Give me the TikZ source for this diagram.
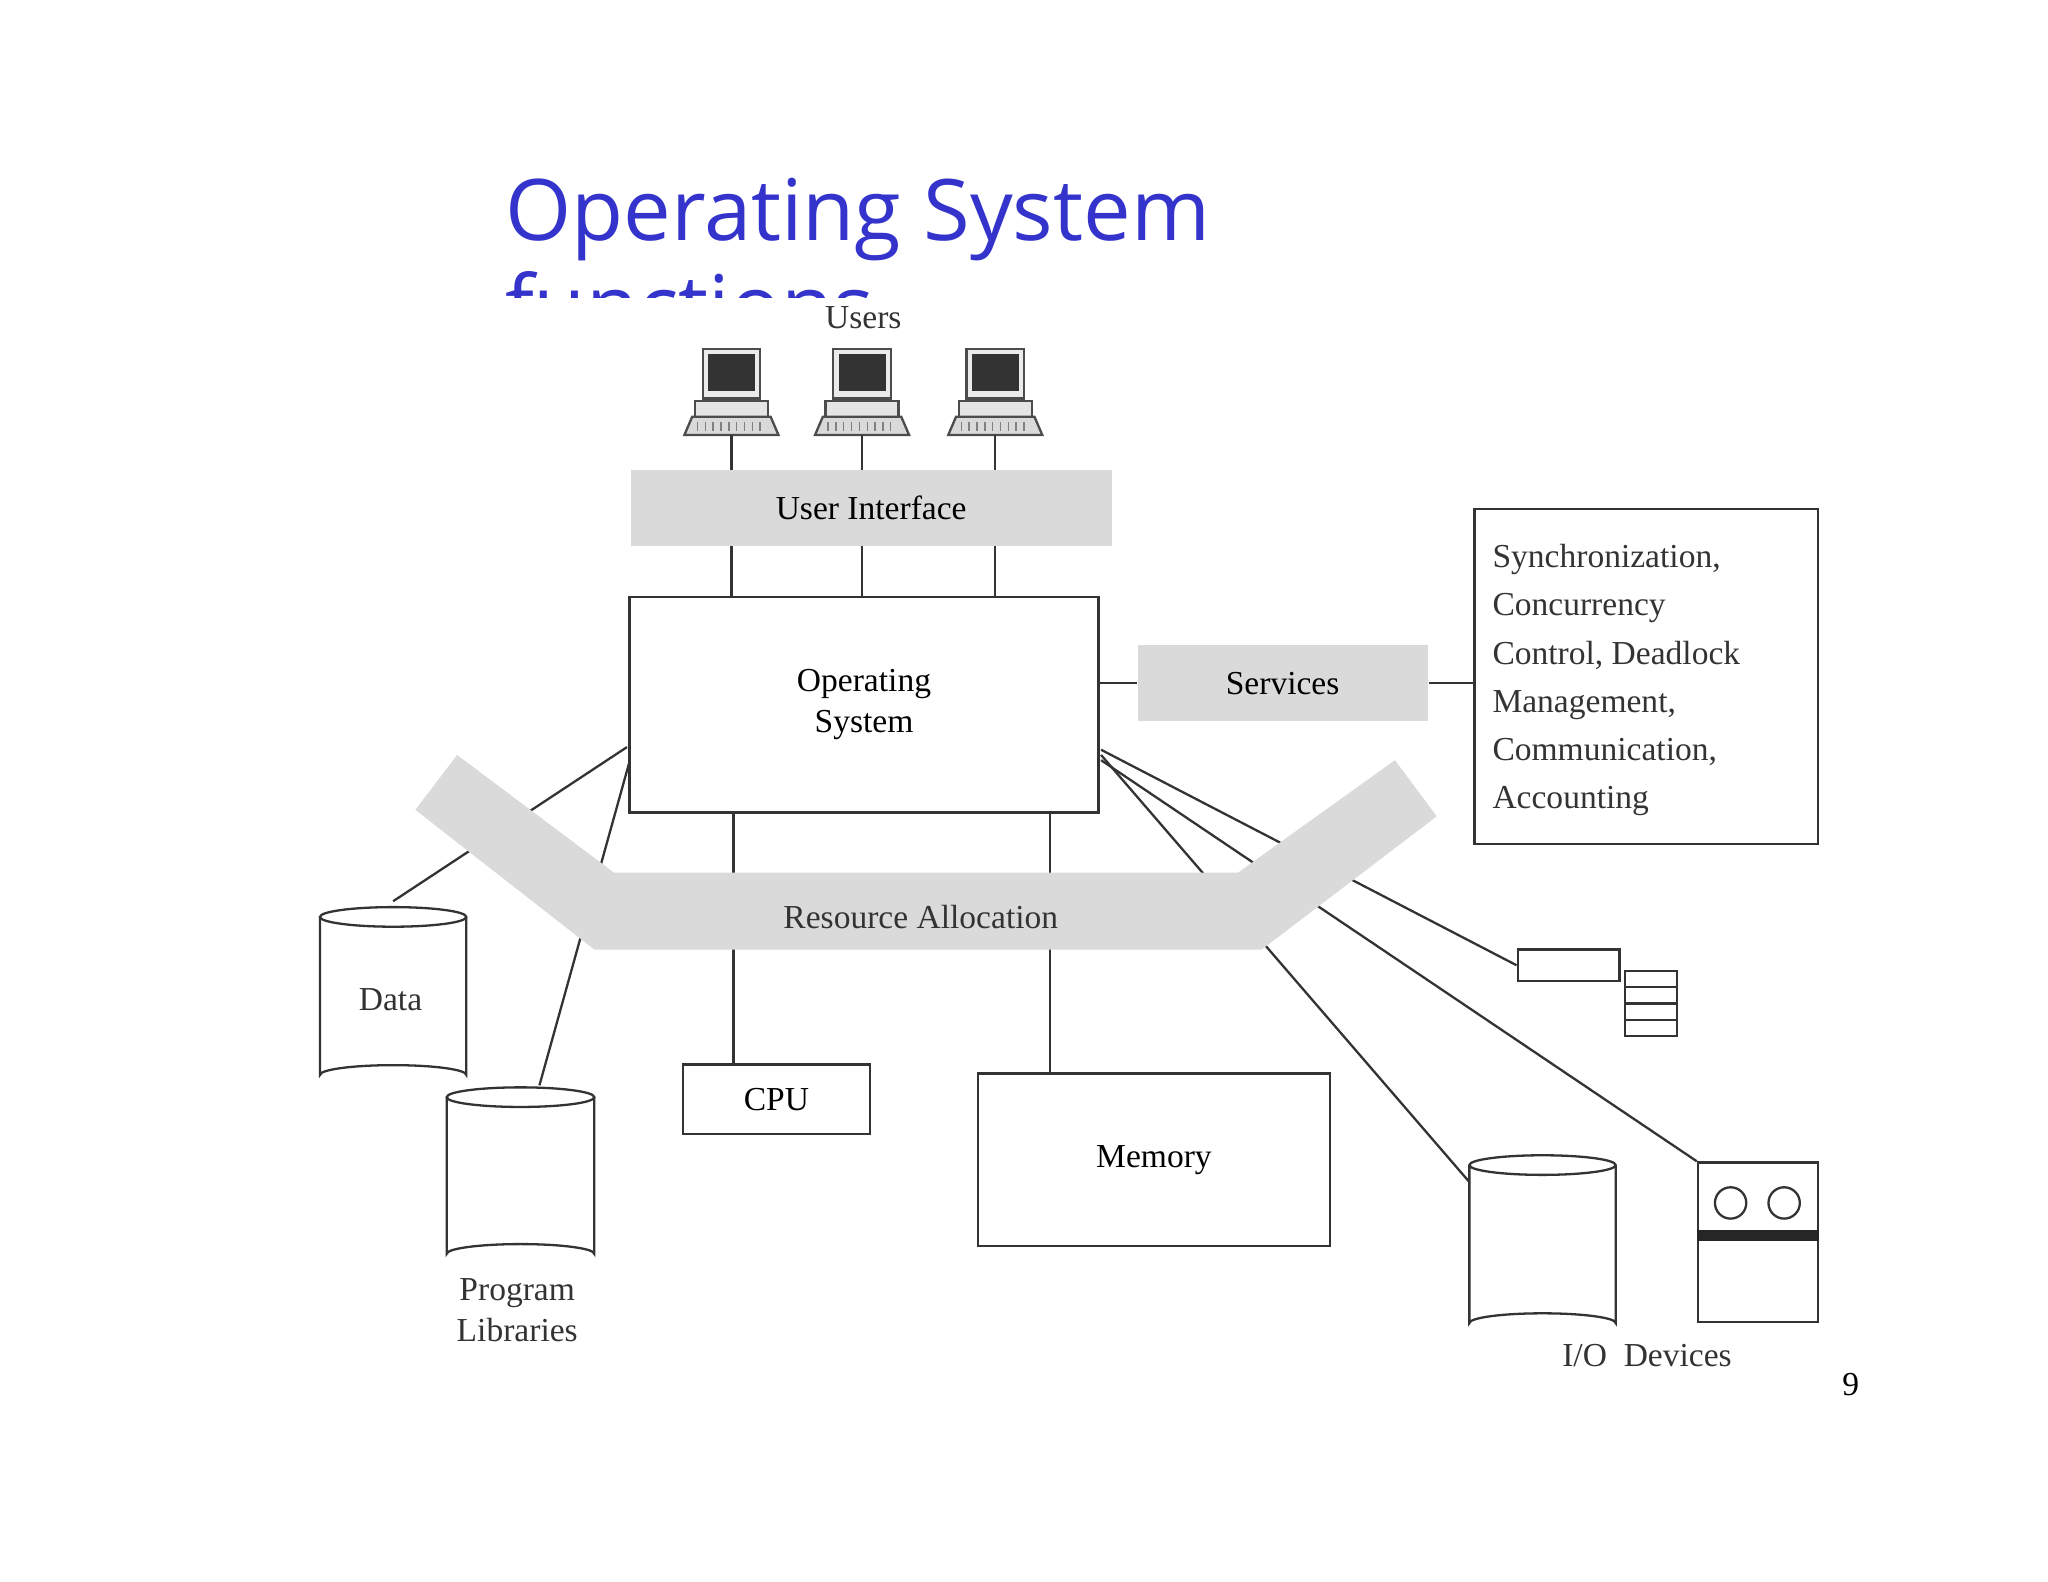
\documentclass[tikz,border=0pt]{standalone}
\usepackage{fontspec}
\setmainfont{Liberation Serif}
\newfontfamily\titlefont{Open Sans}
\definecolor{titleblue}{RGB}{52,52,204}
\definecolor{bandgray}{RGB}{218,218,218}
\tikzset{
	box/.style={draw=black!80, line width=0.5pt, inner sep=0pt, font=\fontsize{7.3}{9}\selectfont},
	graybox/.style={fill=bandgray, inner sep=0pt, font=\fontsize{7.3}{9}\selectfont},
	wire/.style={draw=black!80, line width=0.5pt},
	lbl/.style={inner sep=0pt, font=\fontsize{7.3}{9}\selectfont, text=black!80},
}
\newcommand{\drum}[4]{% x left, x right, y top, y bottom
	\fill[white] (#1,#3) -- (#1,#4) arc[start angle=180,end angle=360,x radius={(#2-#1)/2},y radius=7.5] -- (#2,#3) -- cycle;
	\draw[wire] (#1,#3) -- (#1,#4) arc[start angle=180,end angle=360,x radius={(#2-#1)/2},y radius=7.5] -- (#2,#3);
	\draw[wire,fill=white] ({(#1+#2)/2},#3) ellipse[x radius={(#2-#1)/2},y radius=7.5];
}
\newcommand{\terminal}[2]{% center x, top y
	\draw[black!70,fill=black!8,line width=0.5pt] (#1-22,#2) rectangle (#1+22,#2+38);
	\fill[black!80] (#1-18,#2+4) rectangle (#1+18,#2+32);
	\draw[black!70,fill=black!10,line width=0.5pt] (#1-28,#2+40) rectangle (#1+28,#2+52);
	\draw[black!70,fill=black!15,line width=0.5pt] (#1-30,#2+52) -- (#1+30,#2+52) -- (#1+36,#2+66) -- (#1-36,#2+66) -- cycle;
	\foreach \k in {-26,-20,...,26} \draw[black!50,line width=0.3pt] (#1+\k,#2+56) -- (#1+\k,#2+63);
}
\begin{document}
\begin{tikzpicture}[x=0.01cm,y=-0.01cm]
	\useasboundingbox (0,0) rectangle (1568,1211);
	% title, second line cut by the figure
	\node[anchor=base west, inner sep=0pt, text=titleblue, align=left,
		font=\titlefont\fontsize{18.5}{21}\selectfont] (title) at (386,258) {Operating System\\functions};
	\fill[white] (380,228) rectangle (1000,300);
	% users
	\node[lbl] (users) at (661,243) {Users};
	\foreach \x/\n in {560/ta,660/tb,762/tc}{
		\terminal{\x}{267}
		\coordinate (\n) at (\x,333);
	}
	\node[graybox, minimum width=3.68cm, minimum height=0.58cm] (ui) at (667,389) {User Interface};
	\node[box, minimum width=3.59cm, minimum height=1.65cm, align=center] (os) at (661.5,539.5) {Operating\\System};
	\node[graybox, minimum width=2.22cm, minimum height=0.58cm] (services) at (982,523) {Services};
	\node[box, minimum width=2.63cm, minimum height=2.56cm] (sync) at (1260.5,518) {};
	\node[lbl, anchor=north west, align=left, font=\fontsize{7.3}{10.5}\selectfont] (synctext) at (1142,416)
		{Synchronization,\\Concurrency\\Control, Deadlock\\Management,\\Communication,\\Accounting};
	\foreach \n/\x in {ta/560,tb/660,tc/762}{
		\draw[wire] (\n) -- (\x,360);
		\draw[wire] (\x,418) -- (\x,457);
	}
	\draw[wire] (os.east |- services) -- (services.west);
	\draw[wire] (services.east) -- (sync.west |- services);
	% stores on the left
	\drum{245}{357}{702}{823}
	\coordinate (data) at (301,690);
	\node[lbl] (datalbl) at (299,765) {Data};
	\drum{342}{455}{840}{960}
	\coordinate (lib) at (413,831);
	\node[lbl, align=center] (liblbl) at (396,1003) {Program\\Libraries};
	\coordinate (osa) at (480,572);
	\coordinate (osb) at (482,583);
	\draw[wire] (osa) -- (data);
	\draw[wire] (osb) -- (lib);
	% processor and memory
	\node[box, minimum width=1.43cm, minimum height=0.53cm] (cpu) at (594.5,841.5) {CPU};
	\node[box, minimum width=2.69cm, minimum height=1.32cm] (mem) at (883.5,888) {Memory};
	\draw[wire] (os.south -| cpu.north) ++(-33,0) coordinate (c1) -- (c1 |- cpu.north);
	\draw[wire] (804,622) coordinate (m1) -- (m1 |- mem.north);
	% I/O devices
	\node[box, minimum width=0.78cm, minimum height=0.24cm] (port) at (1201,739) {};
	\foreach \i in {0,...,3}
		\node[box, minimum width=0.40cm, minimum height=0.125cm] (stack\i) at (1264,749.5+12.5*\i) {};
	\drum{1125}{1237}{892}{1013}
	\coordinate (disk) at (1125,905);
	\node[box, minimum width=0.92cm, minimum height=1.22cm] (dev) at (1346,951) {};
	\draw[black!80, line width=0.5pt] (1325,921) circle[radius=12] (1366,921) circle[radius=12];
	\draw[black!85, line width=2.5pt] (dev.west |- 0,946) -- (dev.east |- 0,946);
	\node[lbl] (iolbl) at (1261,1038) {I/O\ \ Devices};
	\coordinate (osc) at (843,574);
	\coordinate (osd) at (843,578);
	\coordinate (ose) at (843,582);
	\draw[wire] (osc) -- (port.west);
	\draw[wire] (osd) -- (disk);
	\draw[wire] (ose) -- (dev.north west);
	% resource allocation band
	\fill[bandgray] (318,620) -- (350,578) -- (470,668) -- (948,668) -- (1068,582)
		-- (1100,625) -- (966,727) -- (455,727) -- cycle;
	\node[lbl] (res) at (705,702) {Resource Allocation};
	\node[lbl, text=black, font=\fontsize{7.3}{9}\selectfont] (page) at (1417,1060) {9};
\end{tikzpicture}
\end{document}
